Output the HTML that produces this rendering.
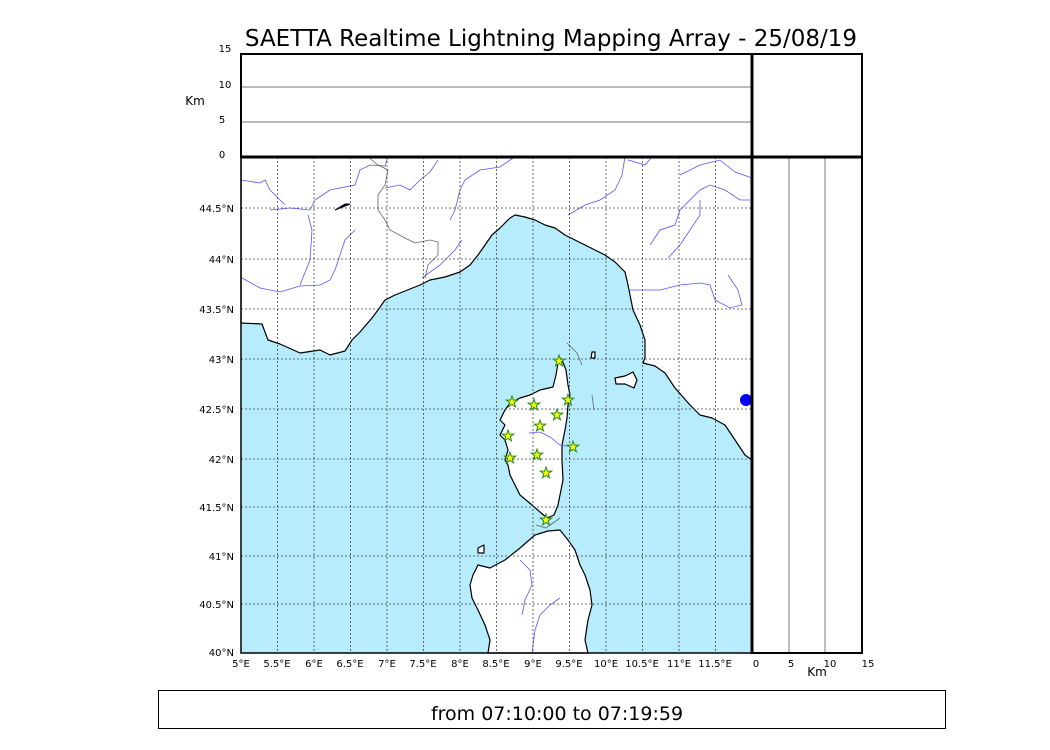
<!DOCTYPE html>
<html><head><style>body{margin:0;background:#fff}svg{display:block}</style></head><body>
<svg width="1050" height="750" xmlns="http://www.w3.org/2000/svg" font-family="DejaVu Sans, Liberation Sans, sans-serif">
<rect width="1050" height="750" fill="#fff"/>
<text x="551" y="46" font-size="23" text-anchor="middle">SAETTA Realtime Lightning Mapping Array - 25/08/19</text>
<line x1="241" y1="87" x2="752" y2="87" stroke="#777" stroke-width="1"/>
<line x1="241" y1="122" x2="752" y2="122" stroke="#777" stroke-width="1"/>
<rect x="241" y="54" width="621" height="103" fill="none" stroke="#000" stroke-width="2"/>
<g font-size="10" text-anchor="middle"><text x="225" y="52">15</text><text x="225" y="88">10</text><text x="222" y="123">5</text><text x="222" y="158">0</text></g>
<text x="195" y="105" font-size="12" text-anchor="middle">Km</text>
<rect x="241" y="157" width="511" height="496" fill="#b6ecfc"/>
<g fill="#fff" stroke="#000" stroke-width="1.2" stroke-linejoin="round">
<path d="M241,157 L752,157 L752,460 L745,455 L735,440 L725,425 L712,418 L700,415 L690,405 L675,388 L665,373 L655,366 L643,363 L645,358 L645,340 L640,325 L633,310 L630,295 L628,285 L625,272 L615,262 L605,255 L595,250 L585,245 L575,240 L565,235 L555,228 L545,225 L535,220 L525,217 L515,215 L510,218 L500,228 L492,235 L485,245 L478,255 L470,265 L460,272 L445,277 L430,280 L420,285 L410,289 L395,295 L385,300 L378,310 L372,318 L360,332 L352,340 L345,351 L330,355 L320,350 L300,353 L280,344 L268,340 L262,324 L241,323 Z"/>
<path d="M559,357 L562,360 L566,370 L568,385 L570,395 L568,405 L567,418 L565,430 L562,445 L562,460 L563,480 L560,495 L558,505 L554,515 L547,518 L540,512 L532,505 L520,495 L515,485 L510,475 L508,465 L505,460 L508,450 L505,440 L500,435 L505,425 L500,420 L505,410 L510,403 L520,398 L530,395 L540,390 L553,387 L556,375 Z"/>
<path d="M548,531 L560,530 L568,540 L575,550 L580,565 L585,575 L590,590 L592,605 L588,620 L585,640 L588,653 L488,653 L490,640 L485,625 L478,610 L472,598 L470,585 L473,575 L478,565 L490,568 L505,560 L520,548 L535,535 Z"/>
<path d="M615,378 L625,376 L633,372 L637,380 L634,388 L625,384 L616,384 Z"/>
<path d="M592,352 L595,352 L595,358 L591,358 Z"/>
<path d="M478,548 L484,545 L484,553 L478,553 Z"/>
</g>
<g fill="none" stroke="#5555ff" stroke-width="0.8">
<path d="M241,180 L260,183 L265,180 L270,190 L285,205"/>
<path d="M242,278 L260,288 L280,292 L300,286 L320,285 L330,280 L335,270 L345,240 L355,230"/>
<path d="M270,210 L290,208 L310,210 L315,200 L330,190 L355,185 L360,170 L370,165 L385,166 L388,157"/>
<path d="M300,285 L310,260 L312,230 L308,215"/>
<path d="M385,188 L400,185 L410,190 L420,180 L430,172 L438,160"/>
<path d="M450,220 L455,210 L460,190 L465,180 L480,170 L500,167 L510,160 L515,157"/>
<path d="M568,215 L585,205 L600,200 L615,190 L622,175 L625,157"/>
<path d="M422,278 L440,265 L455,250 L462,240"/>
<path d="M650,245 L660,230 L675,225 L680,210 L690,200 L700,190 L710,185 L725,190 L740,200 L750,200"/>
<path d="M668,258 L680,245 L690,230 L700,215 L700,200"/>
<path d="M628,290 L660,290 L680,285 L700,283 L710,285 L715,300 L730,308 L742,305 L738,290 L728,275"/>
<path d="M680,175 L700,165 L720,160 L735,172 L752,178"/>
<path d="M628,160 L645,165 L652,157"/>
<path d="M529,433 L540,432 L550,437 L560,445 L573,447"/>
<path d="M520,560 L530,570 L532,585 L525,600 L522,615"/>
<path d="M560,598 L550,605 L540,615 L535,630 L532,653"/>
</g>
<g fill="none" stroke="#666" stroke-width="0.8">
<path d="M368,157 L378,165 L388,170 L385,185 L378,195 L378,210 L385,220 L390,230 L405,238 L415,243 L430,240 L438,242 L438,255 L428,265 L425,278"/>
<path d="M567,343 L577,353 L582,365"/>
<path d="M592,395 L594,410"/>
<path d="M536,525 L546,528 L560,518"/>
</g>
<ellipse cx="746" cy="400" rx="6" ry="6" fill="#0000ff"/>
<path d="M335,210 L345,204 L350,204 L340,208 Z" fill="#00008b" stroke="#000" stroke-width="1"/>
<g stroke="#444" stroke-width="0.8" stroke-dasharray="2,2">
<line x1="277.5" y1="157" x2="277.5" y2="653"/><line x1="314" y1="157" x2="314" y2="653"/><line x1="350.5" y1="157" x2="350.5" y2="653"/><line x1="387" y1="157" x2="387" y2="653"/><line x1="423.5" y1="157" x2="423.5" y2="653"/><line x1="460" y1="157" x2="460" y2="653"/><line x1="496.5" y1="157" x2="496.5" y2="653"/><line x1="533" y1="157" x2="533" y2="653"/><line x1="569.5" y1="157" x2="569.5" y2="653"/><line x1="606" y1="157" x2="606" y2="653"/><line x1="642.5" y1="157" x2="642.5" y2="653"/><line x1="679" y1="157" x2="679" y2="653"/><line x1="715.5" y1="157" x2="715.5" y2="653"/>
<line x1="241" y1="208" x2="752" y2="208"/><line x1="241" y1="259" x2="752" y2="259"/><line x1="241" y1="309" x2="752" y2="309"/><line x1="241" y1="359" x2="752" y2="359"/><line x1="241" y1="409" x2="752" y2="409"/><line x1="241" y1="459" x2="752" y2="459"/><line x1="241" y1="507" x2="752" y2="507"/><line x1="241" y1="556" x2="752" y2="556"/><line x1="241" y1="604" x2="752" y2="604"/>
</g>
<defs><path id="s" d="M0,-6 L1.4,-1.9 L5.7,-1.9 L2.2,0.7 L3.5,4.9 L0,2.4 L-3.5,4.9 L-2.2,0.7 L-5.7,-1.9 L-1.4,-1.9 Z" fill="#ffff00" stroke="#228b22" stroke-width="1"/></defs>
<use href="#s" x="559" y="361"/><use href="#s" x="512" y="402"/><use href="#s" x="534" y="405"/><use href="#s" x="568" y="400"/><use href="#s" x="557" y="415"/><use href="#s" x="540" y="426"/><use href="#s" x="508" y="436"/><use href="#s" x="573" y="447"/><use href="#s" x="537" y="455"/><use href="#s" x="510" y="458"/><use href="#s" x="546" y="473"/><use href="#s" x="546" y="520"/>
<rect x="241" y="157" width="511" height="496" fill="none" stroke="#000" stroke-width="1.5"/>
<line x1="789" y1="157" x2="789" y2="653" stroke="#777"/>
<line x1="825" y1="157" x2="825" y2="653" stroke="#777"/>
<rect x="752" y="157" width="110" height="496" fill="none" stroke="#000" stroke-width="2"/>
<line x1="752" y1="54" x2="752" y2="653" stroke="#000" stroke-width="3"/>
<line x1="241" y1="157" x2="862" y2="157" stroke="#000" stroke-width="3"/>
<g font-size="10" text-anchor="end">
<text x="234" y="212">44.5°N</text><text x="234" y="263">44°N</text><text x="234" y="313">43.5°N</text><text x="234" y="363">43°N</text><text x="234" y="413">42.5°N</text><text x="234" y="463">42°N</text><text x="234" y="511">41.5°N</text><text x="234" y="560">41°N</text><text x="234" y="608">40.5°N</text><text x="234" y="656">40°N</text>
</g>
<g font-size="10" text-anchor="middle">
<text x="241" y="667">5°E</text><text x="277" y="667">5.5°E</text><text x="314" y="667">6°E</text><text x="350" y="667">6.5°E</text><text x="387" y="667">7°E</text><text x="423" y="667">7.5°E</text><text x="460" y="667">8°E</text><text x="496" y="667">8.5°E</text><text x="533" y="667">9°E</text><text x="569" y="667">9.5°E</text><text x="606" y="667">10°E</text><text x="642" y="667">10.5°E</text><text x="679" y="667">11°E</text><text x="715" y="667">11.5°E</text>
<text x="756" y="667">0</text><text x="791" y="667">5</text><text x="830" y="667">10</text><text x="868" y="667">15</text>
</g>
<text x="817" y="676" font-size="12" text-anchor="middle">Km</text>
<rect x="158.5" y="690.5" width="787" height="38" fill="none" stroke="#000" stroke-width="1"/>
<text x="557" y="720" font-size="19" text-anchor="middle">from 07:10:00 to 07:19:59</text>
</svg>
</body></html>
